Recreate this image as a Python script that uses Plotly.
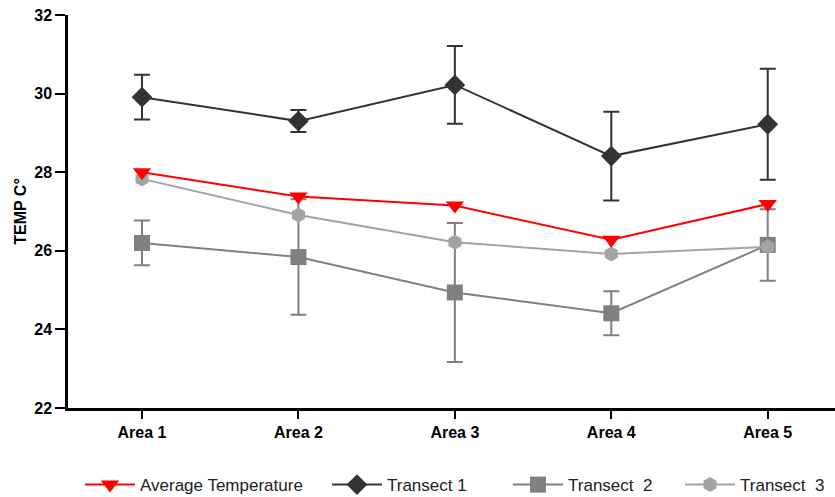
import plotly.graph_objects as go

areas = ["Area 1", "Area 2", "Area 3", "Area 4", "Area 5"]
avg_temp = [28.0, 27.38, 27.15, 26.28, 27.19]
transect1 = [29.91, 29.3, 30.22, 28.41, 29.22]
transect1_err = [0.57, 0.28, 0.99, 1.13, 1.41]
transect2 = [26.2, 25.84, 24.94, 24.41, 26.15]
transect2_err = [0.57, 1.47, 1.77, 0.56, 0.91]
transect3 = [27.83, 26.91, 26.22, 25.92, 26.1]

fig = go.Figure()

fig.add_trace(go.Scatter(
    x=areas, y=transect2, name="Transect  2", mode="lines+markers",
    line=dict(color="#808080", width=2),
    marker=dict(symbol="square", size=16, color="#808080"),
    error_y=dict(type="data", array=transect2_err, color="#808080", thickness=2, width=8),
    legend="legend3",
))
fig.add_trace(go.Scatter(
    x=areas, y=transect3, name="Transect  3", mode="lines+markers",
    line=dict(color="#a3a3a6", width=2),
    marker=dict(symbol="hexagon", size=15, color="#a3a3a6"),
    legend="legend4",
))
fig.add_trace(go.Scatter(
    x=areas, y=transect1, name="Transect 1", mode="lines+markers",
    line=dict(color="#333333", width=2),
    marker=dict(symbol="diamond", size=16, color="#333333"),
    error_y=dict(type="data", array=transect1_err, color="#333333", thickness=2, width=8),
    legend="legend2",
))
fig.add_trace(go.Scatter(
    x=areas, y=avg_temp, name="Average Temperature", mode="lines+markers",
    line=dict(color="#ff0000", width=2),
    marker=dict(symbol="triangle-down", size=16, color="#ff0000"),
    legend="legend",
))

leg_font = dict(size=17, color="#222222", family="Liberation Sans, Arial, sans-serif")
def leg(x):
    return dict(orientation="h", xref="container", yref="container",
                x=x, xanchor="left", y=0.024, yanchor="middle",
                font=leg_font, itemwidth=50, bgcolor="rgba(0,0,0,0)")

fig.update_layout(
    width=835, height=497,
    margin=dict(l=68, r=0, t=15, b=89, autoexpand=False),
    plot_bgcolor="white", paper_bgcolor="white",
    font=dict(family="Liberation Sans, Arial, sans-serif", color="black"),
    showlegend=True,
    legend=leg(0.0958), legend2=leg(0.3916), legend3=leg(0.6084), legend4=leg(0.8144),
)
fig.update_xaxes(
    range=[-0.473, 4.43], showline=True, linecolor="black", linewidth=2.5,
    ticks="outside", ticklen=8, tickwidth=2, tickcolor="black",
    tickfont=dict(size=16, family="Liberation Sans, Arial, sans-serif", color="black", weight="bold"),
    showgrid=False, zeroline=False, automargin=False,
)
fig.update_yaxes(
    range=[22, 32], dtick=2, showline=True, linecolor="black", linewidth=2.5,
    ticks="outside", ticklen=10, tickwidth=2, tickcolor="black",
    tickfont=dict(size=16, family="Liberation Sans, Arial, sans-serif", color="black", weight="bold"),
    title=dict(text="TEMP C°", font=dict(size=16, weight="bold"), standoff=4),
    showgrid=False, zeroline=False, automargin=False,
)

fig.write_html("out.html", config={"displayModeBar": False},
               post_script="document.body.style.margin='0';")
